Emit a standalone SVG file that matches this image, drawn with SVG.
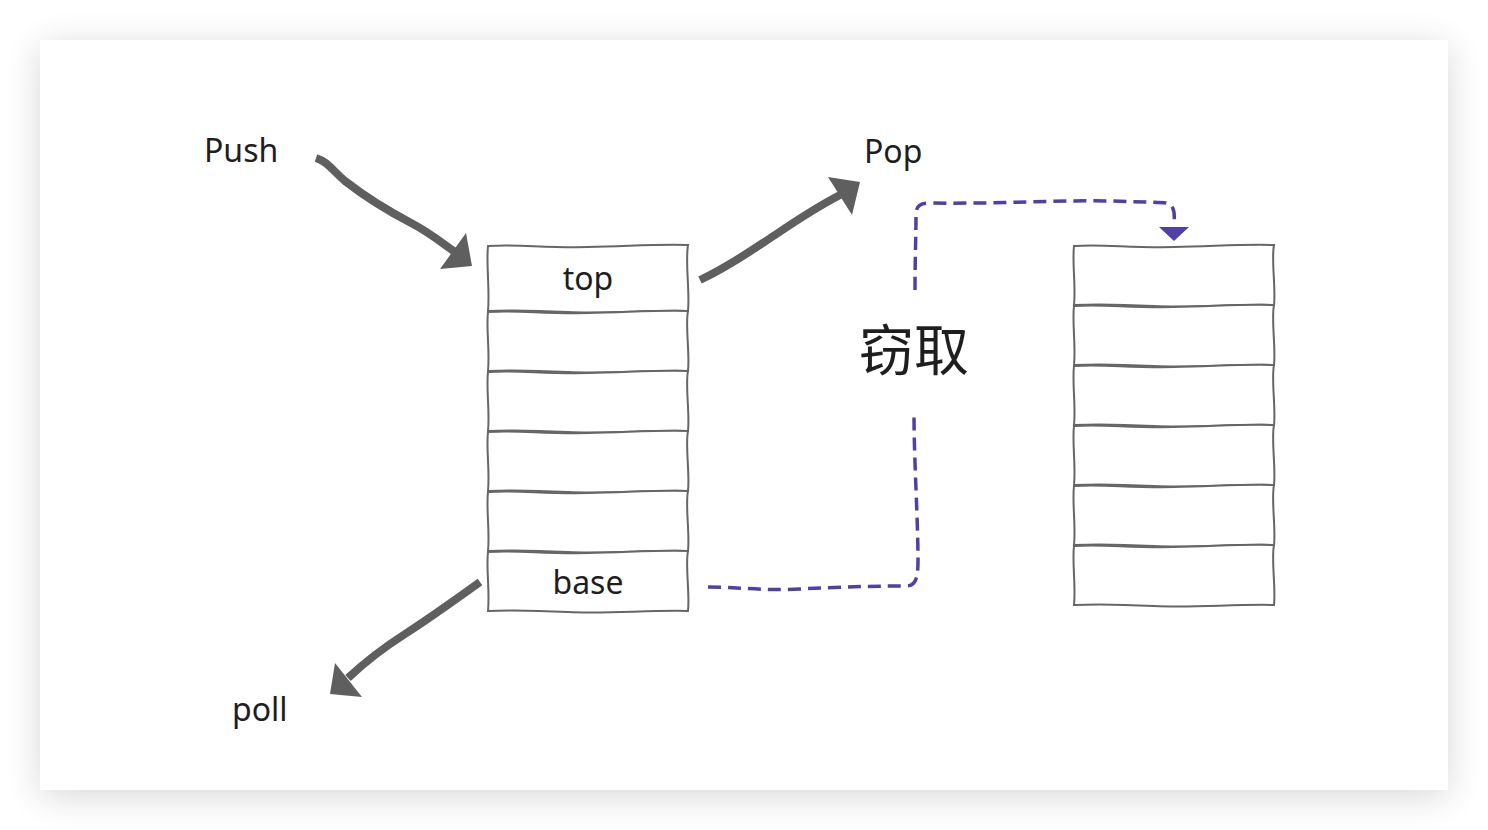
<svg xmlns="http://www.w3.org/2000/svg" width="1488" height="830" viewBox="0 0 1488 830">
<defs>
  <filter id="shadow" x="-10%" y="-10%" width="120%" height="125%">
    <feGaussianBlur in="SourceAlpha" stdDeviation="18"/>
    <feOffset dx="0" dy="6" result="b"/>
    <feComponentTransfer><feFuncA type="linear" slope="0.16"/></feComponentTransfer>
    <feMerge><feMergeNode/><feMergeNode in="SourceGraphic"/></feMerge>
  </filter>
  <path id="cell" d="M0,1 C30,-1 55,3 100,2 S170,-1 200,0 C197,15 202,42 200,60 C160,59 120,63 80,61 S20,59 0,60 C2,40 -2,18 0,1 Z"/>
  <path id="cell66" d="M0,1 C30,-1 55,3 100,2 S170,-1 200,0 C197,18 202,46 200,66 C160,65 120,69 80,67 S20,65 0,66 C2,44 -2,20 0,1 Z"/>
</defs>
<style>
  .cell { fill: #ffffff; stroke: #666666; stroke-width: 2; }
  .lbl { font-family: "Noto Sans", "Liberation Sans", sans-serif; font-size: 32px; fill: #1e1e1e; }
  .cjk { font-family: "Noto Sans CJK SC", "Noto Sans", sans-serif; font-size: 55px; fill: #1e1e1e; }
  .thick { fill: none; stroke: #5f5f5f; stroke-width: 8; stroke-linecap: butt; stroke-linejoin: round; }
  .dash { fill: none; stroke: #4f3fa6; stroke-width: 3.5; stroke-dasharray: 13 7; stroke-linecap: butt; }
  .ah { fill: #5f5f5f; }
  .pah { fill: #4f3fa6; }
</style>
<rect width="1488" height="830" fill="#ffffff"/>
<rect x="40" y="40" width="1408" height="750" fill="#ffffff" filter="url(#shadow)"/>

<g id="stack-left">
  <g id="cell-top"><use href="#cell66" x="488" y="245" class="cell"/><text class="lbl" x="588" y="290" text-anchor="middle">top</text></g>
  <g id="cell-l2"><use href="#cell" x="488" y="311" class="cell"/></g>
  <g id="cell-l3"><use href="#cell" x="488" y="371" class="cell"/></g>
  <g id="cell-l4"><use href="#cell" x="488" y="431" class="cell"/></g>
  <g id="cell-l5"><use href="#cell" x="488" y="491" class="cell"/></g>
  <g id="cell-base"><use href="#cell" x="488" y="551" class="cell"/><text class="lbl" x="588" y="594" text-anchor="middle">base</text></g>
</g>

<g id="stack-right">
  <g id="cell-r1"><use href="#cell" x="1074" y="245" class="cell"/></g>
  <g id="cell-r2"><use href="#cell" x="1074" y="305" class="cell"/></g>
  <g id="cell-r3"><use href="#cell" x="1074" y="365" class="cell"/></g>
  <g id="cell-r4"><use href="#cell" x="1074" y="425" class="cell"/></g>
  <g id="cell-r5"><use href="#cell" x="1074" y="485" class="cell"/></g>
  <g id="cell-r6"><use href="#cell" x="1074" y="545" class="cell"/></g>
</g>

<g id="label-push"><text class="lbl" x="204" y="162">Push</text></g>
<g id="label-pop"><text class="lbl" x="864" y="163">Pop</text></g>
<g id="label-poll"><text class="lbl" x="232" y="721">poll</text></g>
<g id="label-steal"><text class="cjk" x="859" y="370">窃取</text></g>

<g id="connectors">
  <path class="thick" d="M316,158 C328,162 332,170 345,181 C368,199 390,212 413,224 C430,233 442,243 455,252"/>
  <path class="ah" d="M472,266 L440,269 L466,233 Z"/>
  <path class="thick" d="M700,280 C730,266 752,250 775,235 C800,218 815,208 840,195"/>
  <path class="ah" d="M860,182 L828,177 L852,215 Z"/>
  <path class="thick" d="M480,582 C455,600 430,618 405,634 C380,650 365,662 348,678"/>
  <path class="ah" d="M330,694 L335,663 L362,697 Z"/>
  <path class="dash" d="M708,587 C740,587 760,591 800,589 C840,587 870,586 906,586 C916,586 918,578 918,560 C918,520 914,460 914,415"/>
  <path class="dash" d="M915,290 C915,260 916,235 916,215 C916,205 920,203 930,203 C1000,204 1060,200 1110,201 C1140,202 1160,202 1166,203 C1174,205 1175,212 1174,224"/>
  <path class="pah" d="M1159,227 L1189,227 L1174,241 Z"/>
</g>
</svg>
